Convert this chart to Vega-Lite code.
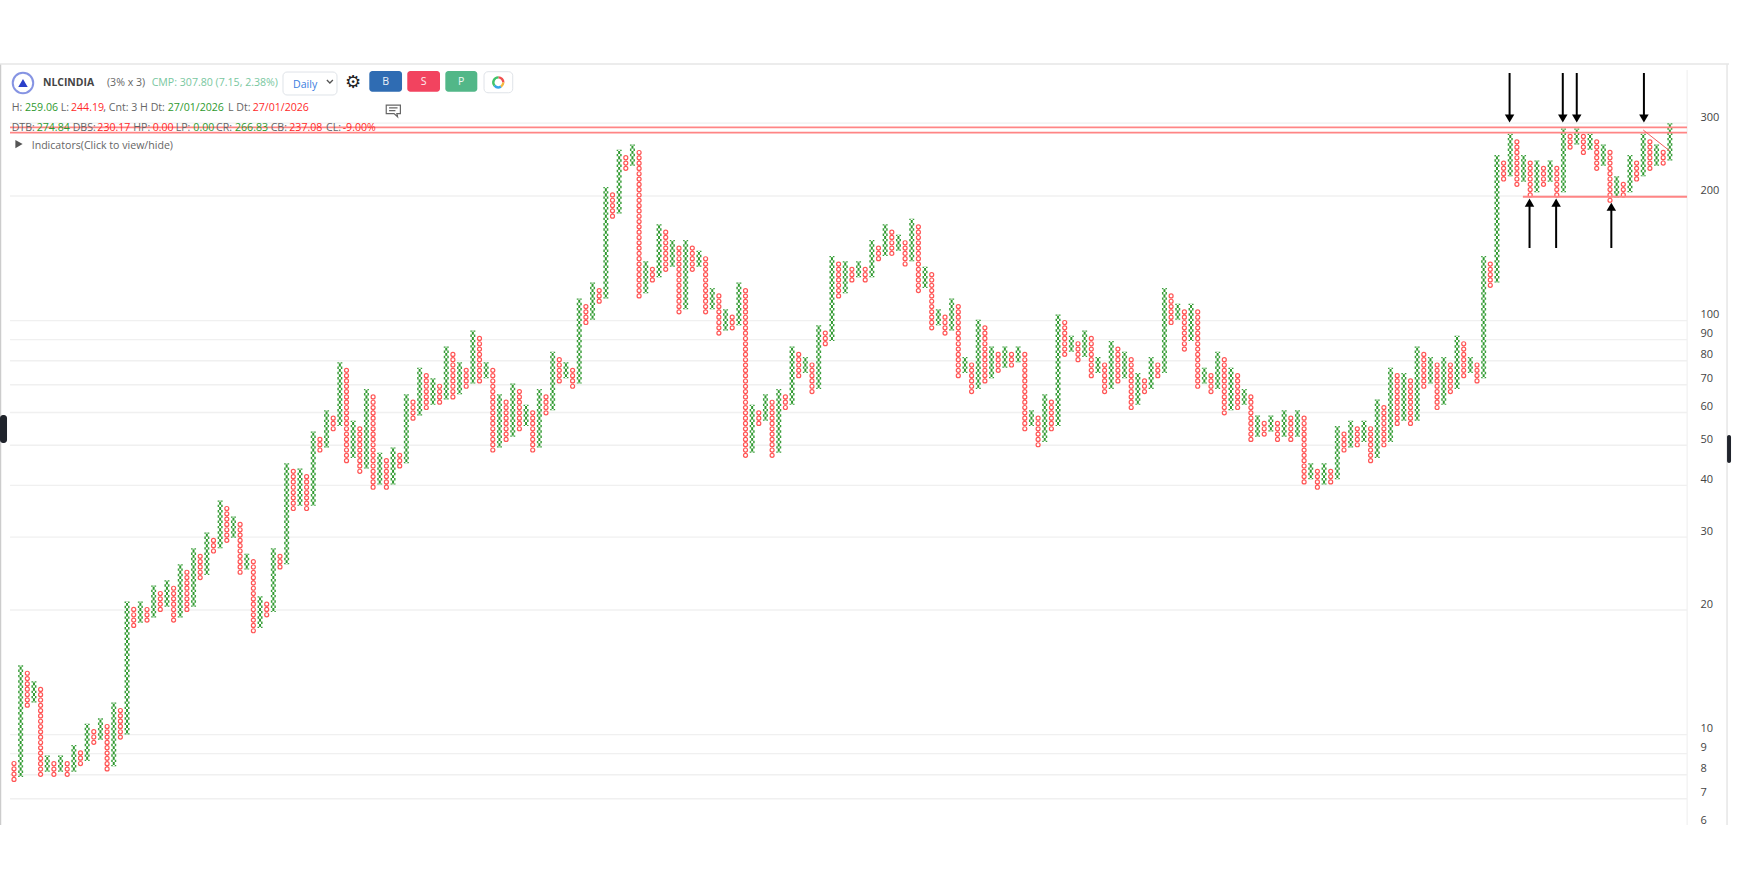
{
"$schema":"https://vega.github.io/schema/vega-lite/v6.json",
"autosize":{"type":"none"},
"padding":{"left":0,"top":0,"right":57,"bottom":0},
"width":1687,
"height":887,
"background":"white",
"config":{"view":{"stroke":null},"text":{"font":"Open Sans","fontSize":10.6}},
"datasets":{
"cols":[
{"c":0,"t":"O","lo":7.68,"hi":8.64},{"c":1,"t":"X","lo":7.90,"hi":14.71},{"c":2,"t":"O","lo":11.61,"hi":14.28},{"c":3,"t":"X","lo":11.96,"hi":13.46},{"c":4,"t":"O","lo":7.90,"hi":13.07},{"c":5,"t":"X","lo":8.14,"hi":8.90},{"c":6,"t":"O","lo":7.90,"hi":8.64},{"c":7,"t":"X","lo":8.14,"hi":8.90},{"c":8,"t":"O","lo":7.90,"hi":8.64},{"c":9,"t":"X","lo":8.14,"hi":9.44},
{"c":10,"t":"O","lo":8.39,"hi":9.16},{"c":11,"t":"X","lo":8.64,"hi":10.62},{"c":12,"t":"O","lo":9.44,"hi":10.32},{"c":13,"t":"X","lo":9.72,"hi":10.95},{"c":14,"t":"O","lo":8.14,"hi":10.62},{"c":15,"t":"X","lo":8.39,"hi":11.96},{"c":16,"t":"O","lo":9.72,"hi":11.61},{"c":17,"t":"X","lo":10.01,"hi":20.97},{"c":18,"t":"O","lo":18.09,"hi":20.36},{"c":19,"t":"X","lo":18.63,"hi":20.97},
{"c":20,"t":"O","lo":18.63,"hi":20.36},{"c":21,"t":"X","lo":19.19,"hi":22.92},{"c":22,"t":"O","lo":19.77,"hi":22.25},{"c":23,"t":"X","lo":20.36,"hi":23.60},{"c":24,"t":"O","lo":18.63,"hi":22.92},{"c":25,"t":"X","lo":19.19,"hi":25.79},{"c":26,"t":"O","lo":19.77,"hi":25.04},{"c":27,"t":"X","lo":20.36,"hi":28.18},{"c":28,"t":"O","lo":23.60,"hi":27.36},{"c":29,"t":"X","lo":24.31,"hi":30.79},
{"c":30,"t":"O","lo":27.36,"hi":29.90},{"c":31,"t":"X","lo":28.18,"hi":36.77},{"c":32,"t":"O","lo":29.03,"hi":35.70},{"c":33,"t":"X","lo":29.90,"hi":33.65},{"c":34,"t":"O","lo":24.31,"hi":32.67},{"c":35,"t":"X","lo":25.04,"hi":27.36},{"c":36,"t":"O","lo":17.56,"hi":26.56},{"c":37,"t":"X","lo":18.09,"hi":21.60},{"c":38,"t":"O","lo":19.19,"hi":20.97},{"c":39,"t":"X","lo":19.77,"hi":28.18},
{"c":40,"t":"O","lo":25.04,"hi":27.36},{"c":41,"t":"X","lo":25.79,"hi":45.23},{"c":42,"t":"O","lo":34.66,"hi":43.91},{"c":43,"t":"X","lo":35.70,"hi":43.91},{"c":44,"t":"O","lo":34.66,"hi":42.63},{"c":45,"t":"X","lo":35.70,"hi":54.00},{"c":46,"t":"O","lo":47.98,"hi":52.43},{"c":47,"t":"X","lo":49.41,"hi":60.78},{"c":48,"t":"O","lo":54.00,"hi":59.01},{"c":49,"t":"X","lo":55.62,"hi":79.30},
{"c":50,"t":"O","lo":45.23,"hi":76.99},{"c":51,"t":"X","lo":46.58,"hi":57.29},{"c":52,"t":"O","lo":42.63,"hi":55.62},{"c":53,"t":"X","lo":43.91,"hi":68.40},{"c":54,"t":"O","lo":39.01,"hi":66.41},{"c":55,"t":"X","lo":40.18,"hi":47.98},{"c":56,"t":"O","lo":39.01,"hi":46.58},{"c":57,"t":"X","lo":40.18,"hi":49.41},{"c":58,"t":"O","lo":43.91,"hi":47.98},{"c":59,"t":"X","lo":45.23,"hi":66.41},
{"c":60,"t":"O","lo":57.29,"hi":64.48},{"c":61,"t":"X","lo":59.01,"hi":76.99},{"c":62,"t":"O","lo":60.78,"hi":74.75},{"c":63,"t":"X","lo":62.60,"hi":72.57},{"c":64,"t":"O","lo":62.60,"hi":70.46},{"c":65,"t":"X","lo":64.48,"hi":86.66},{"c":66,"t":"O","lo":64.48,"hi":84.13},{"c":67,"t":"X","lo":66.41,"hi":79.30},{"c":68,"t":"O","lo":68.40,"hi":76.99},{"c":69,"t":"X","lo":70.46,"hi":94.69},
{"c":70,"t":"O","lo":70.46,"hi":91.93},{"c":71,"t":"X","lo":72.57,"hi":79.30},{"c":72,"t":"O","lo":47.98,"hi":76.99},{"c":73,"t":"X","lo":49.41,"hi":66.41},{"c":74,"t":"O","lo":50.90,"hi":64.48},{"c":75,"t":"X","lo":52.43,"hi":70.46},{"c":76,"t":"O","lo":54.00,"hi":68.40},{"c":77,"t":"X","lo":55.62,"hi":62.60},{"c":78,"t":"O","lo":47.98,"hi":60.78},{"c":79,"t":"X","lo":49.41,"hi":68.40},
{"c":80,"t":"O","lo":59.01,"hi":66.41},{"c":81,"t":"X","lo":60.78,"hi":84.13},{"c":82,"t":"O","lo":70.46,"hi":81.68},{"c":83,"t":"X","lo":72.57,"hi":79.30},{"c":84,"t":"O","lo":68.40,"hi":76.99},{"c":85,"t":"X","lo":70.46,"hi":113.07},{"c":86,"t":"O","lo":97.53,"hi":109.78},{"c":87,"t":"X","lo":100.46,"hi":123.55},{"c":88,"t":"O","lo":109.78,"hi":119.95},{"c":89,"t":"X","lo":113.07,"hi":210.34},
{"c":90,"t":"O","lo":176.16,"hi":204.22},{"c":91,"t":"X","lo":181.44,"hi":258.69},{"c":92,"t":"O","lo":229.85,"hi":251.16},{"c":93,"t":"X","lo":236.75,"hi":266.45},{"c":94,"t":"O","lo":113.07,"hi":258.69},{"c":95,"t":"X","lo":116.46,"hi":139.06},{"c":96,"t":"O","lo":123.55,"hi":135.01},{"c":97,"t":"X","lo":127.26,"hi":171.02},{"c":98,"t":"O","lo":131.08,"hi":166.05},{"c":99,"t":"X","lo":135.01,"hi":156.51},
{"c":100,"t":"O","lo":103.47,"hi":151.96},{"c":101,"t":"X","lo":106.57,"hi":156.51},{"c":102,"t":"O","lo":131.08,"hi":151.96},{"c":103,"t":"X","lo":135.01,"hi":147.52},{"c":104,"t":"O","lo":103.47,"hi":143.23},{"c":105,"t":"X","lo":106.57,"hi":119.95},{"c":106,"t":"O","lo":91.93,"hi":116.46},{"c":107,"t":"X","lo":94.69,"hi":106.57},{"c":108,"t":"O","lo":94.69,"hi":103.47},{"c":109,"t":"X","lo":97.53,"hi":123.55},
{"c":110,"t":"O","lo":46.58,"hi":119.95},{"c":111,"t":"X","lo":47.98,"hi":62.60},{"c":112,"t":"O","lo":55.62,"hi":60.78},{"c":113,"t":"X","lo":57.29,"hi":66.41},{"c":114,"t":"O","lo":46.58,"hi":64.48},{"c":115,"t":"X","lo":47.98,"hi":68.40},{"c":116,"t":"O","lo":60.78,"hi":66.41},{"c":117,"t":"X","lo":62.60,"hi":86.66},{"c":118,"t":"O","lo":72.57,"hi":84.13},{"c":119,"t":"X","lo":74.75,"hi":81.68},
{"c":120,"t":"O","lo":66.41,"hi":79.30},{"c":121,"t":"X","lo":68.40,"hi":97.53},{"c":122,"t":"O","lo":86.66,"hi":94.69},{"c":123,"t":"X","lo":89.25,"hi":143.23},{"c":124,"t":"O","lo":113.07,"hi":139.06},{"c":125,"t":"X","lo":116.46,"hi":139.06},{"c":126,"t":"O","lo":123.55,"hi":135.01},{"c":127,"t":"X","lo":127.26,"hi":139.06},{"c":128,"t":"O","lo":123.55,"hi":135.01},{"c":129,"t":"X","lo":127.26,"hi":156.51},
{"c":130,"t":"O","lo":139.06,"hi":151.96},{"c":131,"t":"X","lo":143.23,"hi":171.02},{"c":132,"t":"O","lo":143.23,"hi":166.05},{"c":133,"t":"X","lo":147.52,"hi":161.21},{"c":134,"t":"O","lo":135.01,"hi":156.51},{"c":135,"t":"X","lo":139.06,"hi":176.16},{"c":136,"t":"O","lo":116.46,"hi":171.02},{"c":137,"t":"X","lo":119.95,"hi":135.01},{"c":138,"t":"O","lo":94.69,"hi":131.08},{"c":139,"t":"X","lo":97.53,"hi":106.57},
{"c":140,"t":"O","lo":91.93,"hi":103.47},{"c":141,"t":"X","lo":94.69,"hi":113.07},{"c":142,"t":"O","lo":72.57,"hi":109.78},{"c":143,"t":"X","lo":74.75,"hi":81.68},{"c":144,"t":"O","lo":66.41,"hi":79.30},{"c":145,"t":"X","lo":68.40,"hi":100.46},{"c":146,"t":"O","lo":70.46,"hi":97.53},{"c":147,"t":"X","lo":72.57,"hi":86.66},{"c":148,"t":"O","lo":74.75,"hi":84.13},{"c":149,"t":"X","lo":76.99,"hi":86.66},
{"c":150,"t":"O","lo":76.99,"hi":84.13},{"c":151,"t":"X","lo":79.30,"hi":86.66},{"c":152,"t":"O","lo":54.00,"hi":84.13},{"c":153,"t":"X","lo":55.62,"hi":60.78},{"c":154,"t":"O","lo":49.41,"hi":59.01},{"c":155,"t":"X","lo":50.90,"hi":66.41},{"c":156,"t":"O","lo":54.00,"hi":64.48},{"c":157,"t":"X","lo":55.62,"hi":103.47},{"c":158,"t":"O","lo":81.68,"hi":100.46},{"c":159,"t":"X","lo":84.13,"hi":91.93},
{"c":160,"t":"O","lo":79.30,"hi":89.25},{"c":161,"t":"X","lo":81.68,"hi":94.69},{"c":162,"t":"O","lo":72.57,"hi":91.93},{"c":163,"t":"X","lo":74.75,"hi":81.68},{"c":164,"t":"O","lo":66.41,"hi":79.30},{"c":165,"t":"X","lo":68.40,"hi":89.25},{"c":166,"t":"O","lo":70.46,"hi":86.66},{"c":167,"t":"X","lo":72.57,"hi":84.13},{"c":168,"t":"O","lo":60.78,"hi":81.68},{"c":169,"t":"X","lo":62.60,"hi":74.75},
{"c":170,"t":"O","lo":66.41,"hi":72.57},{"c":171,"t":"X","lo":68.40,"hi":81.68},{"c":172,"t":"O","lo":72.57,"hi":79.30},{"c":173,"t":"X","lo":74.75,"hi":119.95},{"c":174,"t":"O","lo":97.53,"hi":116.46},{"c":175,"t":"X","lo":100.46,"hi":109.78},{"c":176,"t":"O","lo":84.13,"hi":106.57},{"c":177,"t":"X","lo":89.25,"hi":109.78},{"c":178,"t":"O","lo":68.40,"hi":106.57},{"c":179,"t":"X","lo":70.46,"hi":76.99},
{"c":180,"t":"O","lo":66.41,"hi":74.75},{"c":181,"t":"X","lo":68.40,"hi":84.13},{"c":182,"t":"O","lo":59.01,"hi":81.68},{"c":183,"t":"X","lo":60.78,"hi":76.99},{"c":184,"t":"O","lo":60.78,"hi":74.75},{"c":185,"t":"X","lo":62.60,"hi":68.40},{"c":186,"t":"O","lo":50.90,"hi":66.41},{"c":187,"t":"X","lo":52.43,"hi":59.01},{"c":188,"t":"O","lo":52.43,"hi":57.29},{"c":189,"t":"X","lo":54.00,"hi":59.01},
{"c":190,"t":"O","lo":50.90,"hi":57.29},{"c":191,"t":"X","lo":52.43,"hi":60.78},{"c":192,"t":"O","lo":50.90,"hi":59.01},{"c":193,"t":"X","lo":52.43,"hi":60.78},{"c":194,"t":"O","lo":40.18,"hi":59.01},{"c":195,"t":"X","lo":41.38,"hi":45.23},{"c":196,"t":"O","lo":39.01,"hi":43.91},{"c":197,"t":"X","lo":40.18,"hi":45.23},{"c":198,"t":"O","lo":40.18,"hi":43.91},{"c":199,"t":"X","lo":41.38,"hi":55.62},
{"c":200,"t":"O","lo":47.98,"hi":54.00},{"c":201,"t":"X","lo":49.41,"hi":57.29},{"c":202,"t":"O","lo":49.41,"hi":55.62},{"c":203,"t":"X","lo":50.90,"hi":57.29},{"c":204,"t":"O","lo":45.23,"hi":55.62},{"c":205,"t":"X","lo":46.58,"hi":64.48},{"c":206,"t":"O","lo":49.41,"hi":62.60},{"c":207,"t":"X","lo":50.90,"hi":76.99},{"c":208,"t":"O","lo":55.62,"hi":74.75},{"c":209,"t":"X","lo":57.29,"hi":74.75},
{"c":210,"t":"O","lo":55.62,"hi":72.57},{"c":211,"t":"X","lo":57.29,"hi":86.66},{"c":212,"t":"O","lo":68.40,"hi":84.13},{"c":213,"t":"X","lo":70.46,"hi":81.68},{"c":214,"t":"O","lo":60.78,"hi":79.30},{"c":215,"t":"X","lo":62.60,"hi":81.68},{"c":216,"t":"O","lo":66.41,"hi":79.30},{"c":217,"t":"X","lo":68.40,"hi":91.93},{"c":218,"t":"O","lo":72.57,"hi":89.25},{"c":219,"t":"X","lo":74.75,"hi":81.68},
{"c":220,"t":"O","lo":70.46,"hi":79.30},{"c":221,"t":"X","lo":72.57,"hi":143.23},{"c":222,"t":"O","lo":119.95,"hi":139.06},{"c":223,"t":"X","lo":123.55,"hi":251.16},{"c":224,"t":"O","lo":216.65,"hi":243.84},{"c":225,"t":"X","lo":223.15,"hi":282.68},{"c":226,"t":"O","lo":210.34,"hi":274.44},{"c":227,"t":"X","lo":216.65,"hi":251.16},{"c":228,"t":"O","lo":198.27,"hi":243.84},{"c":229,"t":"X","lo":204.22,"hi":243.84},
{"c":230,"t":"O","lo":210.34,"hi":236.75},{"c":231,"t":"X","lo":216.65,"hi":243.84},{"c":232,"t":"O","lo":198.27,"hi":236.75},{"c":233,"t":"X","lo":204.22,"hi":291.16},{"c":234,"t":"O","lo":258.69,"hi":282.68},{"c":235,"t":"X","lo":266.45,"hi":291.16},{"c":236,"t":"O","lo":251.16,"hi":282.68},{"c":237,"t":"X","lo":258.69,"hi":282.68},{"c":238,"t":"O","lo":229.85,"hi":274.44},{"c":239,"t":"X","lo":236.75,"hi":266.45},
{"c":240,"t":"O","lo":192.49,"hi":258.69},{"c":241,"t":"X","lo":198.27,"hi":223.15},{"c":242,"t":"O","lo":198.27,"hi":216.65},{"c":243,"t":"X","lo":204.22,"hi":251.16},{"c":244,"t":"O","lo":216.65,"hi":243.84},{"c":245,"t":"X","lo":223.15,"hi":282.68},{"c":246,"t":"O","lo":229.85,"hi":274.44},{"c":247,"t":"X","lo":236.75,"hi":266.45},{"c":248,"t":"O","lo":236.75,"hi":258.69},{"c":249,"t":"X","lo":243.84,"hi":299.90}
],
"levels":[{"level":300},{"level":200},{"level":100},{"level":90},{"level":80},{"level":70},{"level":60},{"level":50},{"level":40},{"level":30},{"level":20},{"level":10},{"level":9},{"level":8},{"level":7}],
"frame":[
{"c0":-2.03,"c1":-2.03,"p0":416.8,"p1":6.05,"tone":"left"},
{"c0":-2.1,"c1":257.9,"p0":416.8,"p1":416.8,"tone":"top"},
{"c0":257.6,"c1":257.6,"p0":416.8,"p1":6.05,"tone":"top"},
{"c0":251.6,"c1":251.6,"p0":403.1,"p1":6.05,"tone":"mid"}
],
"redlines":[
{"c0":-0.6,"c1":251.58,"p0":293.0,"p1":293.0},
{"c0":-0.6,"c1":251.58,"p0":284.4,"p1":284.4},
{"c0":226.9,"c1":251.58,"p0":199.2,"p1":199.2}
],
"diagonal":[{"c0":245,"c1":249,"p0":288.7,"p1":256.9}],
"arrows":[
{"c":224.9,"from":396.4,"to":310.4,"head":307.8,"dir":"down"},
{"c":232.9,"from":396.4,"to":310.4,"head":307.8,"dir":"down"},
{"c":235.0,"from":396.4,"to":310.4,"head":307.8,"dir":"down"},
{"c":245.1,"from":396.4,"to":310.4,"head":307.8,"dir":"down"},
{"c":227.9,"from":149.8,"to":190.0,"head":192.9,"dir":"up"},
{"c":231.9,"from":149.8,"to":190.0,"head":192.9,"dir":"up"},
{"c":240.2,"from":149.8,"to":186.0,"head":188.4,"dir":"up"}
],
"boxes":[
{"c0":53.43,"c1":58.35,"p0":400.8,"p1":357.2,"tone":"b"},
{"c0":59.14,"c1":64.06,"p0":400.8,"p1":357.2,"tone":"s"},
{"c0":64.86,"c1":69.67,"p0":400.8,"p1":357.2,"tone":"p"},
{"c0":-2.105,"c1":-1.05,"p0":59.16,"p1":50.63,"tone":"tab"},
{"c0":257.6,"c1":258.2,"p0":52.93,"p1":45.3,"tone":"tab"}
],
"controls":[
{"c0":40.45,"c1":48.57,"p0":398.6,"p1":350.8},
{"c0":70.68,"c1":75.0,"p0":399.3,"p1":355.2}
],
"wheel":[
{"c":72.83,"p":376.4,"a0":0,"a1":1.6,"tone":"red"},
{"c":72.83,"p":376.4,"a0":1.6,"a1":2.6,"tone":"amber"},
{"c":72.83,"p":376.4,"a0":2.6,"a1":4.0,"tone":"blue"},
{"c":72.83,"p":376.4,"a0":4.0,"a1":6.29,"tone":"green"}
],
"labels":[
{"c":13.98,"p":368.7,"txt":"(3% x 3)","tone":"gray"},
{"c":20.7,"p":368.7,"txt":"CMP: 307.80 (7.15, 2.38%)","tone":"cmp"},
{"c":41.95,"p":364.7,"txt":"Daily","tone":"link"},
{"c":-0.35,"p":320.8,"txt":"H:","tone":"gray"},
{"c":1.65,"p":320.8,"txt":"259.06","tone":"up"},
{"c":7.02,"p":320.8,"txt":"L:","tone":"gray"},
{"c":8.57,"p":320.8,"txt":"244.19","tone":"down"},
{"c":13.43,"p":320.8,"txt":", Cnt: 3 H Dt:","tone":"gray"},
{"c":23.11,"p":320.8,"txt":"27/01/2026","tone":"up"},
{"c":32.18,"p":320.8,"txt":"L Dt:","tone":"gray"},
{"c":35.89,"p":320.8,"txt":"27/01/2026","tone":"down"},
{"c":-0.35,"p":287.1,"txt":"DTB:","tone":"gray"},
{"c":3.41,"p":287.1,"txt":"274.84","tone":"up"},
{"c":8.82,"p":287.1,"txt":"DBS:","tone":"gray"},
{"c":12.53,"p":287.1,"txt":"230.17","tone":"down"},
{"c":17.94,"p":287.1,"txt":"HP:","tone":"gray"},
{"c":20.85,"p":287.1,"txt":"0.00","tone":"down"},
{"c":24.31,"p":287.1,"txt":"LP:","tone":"gray"},
{"c":26.97,"p":287.1,"txt":"0.00","tone":"up"},
{"c":30.38,"p":287.1,"txt":"CR:","tone":"gray"},
{"c":33.23,"p":287.1,"txt":"266.83","tone":"up"},
{"c":38.6,"p":287.1,"txt":"CB:","tone":"gray"},
{"c":41.4,"p":287.1,"txt":"237.08","tone":"down"},
{"c":46.92,"p":287.1,"txt":"CL:","tone":"gray"},
{"c":49.43,"p":287.1,"txt":"-9.00%","tone":"down"},
{"c":2.66,"p":259.8,"txt":"Indicators(Click to view/hide)","tone":"gray"}
],
"buttons":[
{"c":55.88,"p":378,"txt":"B"},
{"c":61.6,"p":378,"txt":"S"},
{"c":67.26,"p":378,"txt":"P"}
]
},
"layer":[
{"data":{"name":"frame"},
 "mark":{"type":"rule","strokeWidth":1.5},
 "encoding":{
  "x":{"field":"c0","type":"quantitative","axis":null,"scale":{"domain":[-2.105,251.579],"nice":false,"zero":false}},
  "x2":{"field":"c1"},
  "y":{"field":"p0","type":"quantitative","scale":{"type":"log","domain":[4.285,595],"nice":false},
   "axis":{"orient":"right","domain":false,"ticks":false,"grid":false,"title":null,"values":[300,200,100,90,80,70,60,50,40,30,20,10,9,8,7,6],"format":"d","labelOverlap":false,"labelPadding":13,"labelOffset":-6,"labelFont":"Open Sans","labelFontSize":11,"labelColor":"#444444","labelAlign":"left"}},
  "y2":{"field":"p1"},
  "color":{"field":"tone","type":"nominal","legend":null,"scale":{"domain":["left","top","mid"],"range":["#cccccc","#e6e6e6","#f3f3f3"]}}
 }},
{"data":{"name":"levels"},
 "mark":{"type":"rule","stroke":"#f0f0f0","strokeWidth":1.3},
 "encoding":{
  "x":{"datum":-0.6},
  "x2":{"datum":251.58},
  "y":{"field":"level","type":"quantitative"}
 }},
{"data":{"name":"cols"},
 "transform":[{"filter":"datum.t === 'O'"}],
 "encoding":{
  "x":{"field":"c","type":"quantitative"},
  "y":{"field":"lo","type":"quantitative"},
  "y2":{"field":"hi"}
 },
 "layer":[
  {"mark":{"type":"rule","stroke":"#ff5555","strokeWidth":5.2,"strokeCap":"round","strokeDash":[0.01,5.3],"strokeDashOffset":2.65}},
  {"mark":{"type":"rule","stroke":"#ffffff","strokeWidth":2.8,"strokeCap":"round","strokeDash":[0.01,5.3],"strokeDashOffset":2.65}}
 ]},
{"data":{"name":"cols"},
 "transform":[{"filter":"datum.t === 'X'"}],
 "encoding":{
  "x":{"field":"c","type":"quantitative"},
  "y":{"field":"lo","type":"quantitative"},
  "y2":{"field":"hi"}
 },
 "layer":[
  {"mark":{"type":"rule","stroke":"#3a9e3a","strokeWidth":5,"strokeDash":[1.2,2.91,1.2,0]}},
  {"mark":{"type":"rule","stroke":"#ffffff","strokeWidth":2,"strokeDash":[1.2,2.91,1.2,0]}},
  {"mark":{"type":"rule","stroke":"#2f9a2f","strokeWidth":2,"strokeDash":[0,1.2,2.91,1.2]}}
 ]},
{"data":{"name":"redlines"},
 "mark":{"type":"rule","stroke":"#ff8585","strokeWidth":1.8},
 "encoding":{
  "x":{"field":"c0","type":"quantitative"},
  "x2":{"field":"c1"},
  "y":{"field":"p0","type":"quantitative"},
  "y2":{"field":"p1"}
 }},
{"data":{"name":"diagonal"},
 "mark":{"type":"rule","stroke":"#f25c5c","strokeWidth":1},
 "encoding":{
  "x":{"field":"c0","type":"quantitative"},
  "x2":{"field":"c1"},
  "y":{"field":"p0","type":"quantitative"},
  "y2":{"field":"p1"}
 }},
{"data":{"name":"arrows"},
 "mark":{"type":"rule","stroke":"#000000","strokeWidth":2},
 "encoding":{
  "x":{"field":"c","type":"quantitative"},
  "y":{"field":"from","type":"quantitative"},
  "y2":{"field":"to"}
 }},
{"data":{"name":"arrows"},
 "mark":{"type":"point","filled":true,"fill":"#000000","stroke":null,"opacity":1,"size":90},
 "encoding":{
  "x":{"field":"c","type":"quantitative"},
  "y":{"field":"head","type":"quantitative"},
  "shape":{"field":"dir","type":"nominal","legend":null,"scale":{"domain":["down","up"],"range":["triangle-down","triangle-up"]}}
 }},
{"data":{"name":"boxes"},
 "mark":{"type":"rect","cornerRadius":3},
 "encoding":{
  "x":{"field":"c0","type":"quantitative"},
  "x2":{"field":"c1"},
  "y":{"field":"p0","type":"quantitative"},
  "y2":{"field":"p1"},
  "fill":{"field":"tone","type":"nominal","legend":null,"scale":{"domain":["b","s","p","tab"],"range":["#2f6cb3","#f2435f","#52b788","#20242c"]}}
 }},
{"data":{"name":"controls"},
 "mark":{"type":"rect","cornerRadius":4,"fill":"#ffffff","stroke":"#dfe3e8","strokeWidth":1},
 "encoding":{
  "x":{"field":"c0","type":"quantitative"},
  "x2":{"field":"c1"},
  "y":{"field":"p0","type":"quantitative"},
  "y2":{"field":"p1"}
 }},
{"data":{"name":"wheel"},
 "mark":{"type":"arc","innerRadius":3.8,"outerRadius":6.2},
 "encoding":{
  "x":{"field":"c","type":"quantitative"},
  "y":{"field":"p","type":"quantitative"},
  "theta":{"field":"a0","type":"quantitative","scale":null},
  "theta2":{"field":"a1"},
  "fill":{"field":"tone","type":"nominal","legend":null,"scale":{"domain":["red","amber","blue","green"],"range":["#f0504f","#f5b83d","#35a4e8","#3fc46a"]}}
 }},
{"data":{"values":[{"c":1.35,"p":375}]},
 "mark":{"type":"point","shape":"circle","size":420,"stroke":"#5468d8","strokeWidth":2,"fill":"#ffffff","filled":false},
 "encoding":{"x":{"field":"c","type":"quantitative"},"y":{"field":"p","type":"quantitative"}}},
{"data":{"values":[{"c":1.35,"p":375}]},
 "mark":{"type":"point","shape":"triangle-up","size":90,"fill":"#2b3fc9","stroke":null,"filled":true,"opacity":1},
 "encoding":{"x":{"field":"c","type":"quantitative"},"y":{"field":"p","type":"quantitative"}}},
{"data":{"values":[{"c":0.75,"p":267}]},
 "mark":{"type":"point","shape":"triangle-right","size":70,"fill":"#555555","stroke":null,"filled":true,"opacity":1},
 "encoding":{"x":{"field":"c","type":"quantitative"},"y":{"field":"p","type":"quantitative"}}},
{"data":{"values":[{"c":47.5,"p":378}]},
 "mark":{"type":"point","shape":"M-1,-0.5L0,0.5L1,-0.5","size":36,"stroke":"#555555","strokeWidth":1.3,"filled":false,"opacity":1},
 "encoding":{"x":{"field":"c","type":"quantitative"},"y":{"field":"p","type":"quantitative"}}},
{"data":{"values":[{"c":57.04,"p":322.7}]},
 "mark":{"type":"point","shape":"M-1,-0.7H1V0.5H0.5L0.6,0.95L0.1,0.5H-1Z M-0.6,-0.3H0.6 M-0.6,0.1H0.3","size":200,"stroke":"#666666","strokeWidth":1.2,"filled":false,"opacity":1},
 "encoding":{"x":{"field":"c","type":"quantitative"},"y":{"field":"p","type":"quantitative"}}},
{"data":{"values":[{"c":50.98,"p":375,"txt":"⚙"}]},
 "mark":{"type":"text","font":"DejaVu Sans","fontSize":18,"align":"center","baseline":"middle","color":"#222222","fontWeight":"bold"},
 "encoding":{"x":{"field":"c","type":"quantitative"},"y":{"field":"p","type":"quantitative"},"text":{"field":"txt"}}},
{"data":{"values":[{"c":4.36,"p":368.7,"txt":"NLCINDIA"}]},
 "mark":{"type":"text","align":"left","baseline":"alphabetic","fontWeight":"bold","color":"#444444","fontSize":10.4},
 "encoding":{"x":{"field":"c","type":"quantitative"},"y":{"field":"p","type":"quantitative"},"text":{"field":"txt"}}},
{"data":{"name":"labels"},
 "mark":{"type":"text","align":"left","baseline":"alphabetic"},
 "encoding":{
  "x":{"field":"c","type":"quantitative"},
  "y":{"field":"p","type":"quantitative"},
  "text":{"field":"txt"},
  "color":{"field":"tone","type":"nominal","legend":null,"scale":{"domain":["gray","up","down","cmp","link"],"range":["#666666","#2e9a2e","#ff2a2a","#79c7a0","#3a7de0"]}}
 }},
{"data":{"name":"buttons"},
 "mark":{"type":"text","align":"center","baseline":"middle","color":"#ffffff","opacity":0.9},
 "encoding":{"x":{"field":"c","type":"quantitative"},"y":{"field":"p","type":"quantitative"},"text":{"field":"txt"}}}
],
"resolve":{"scale":{"color":"independent","fill":"independent","shape":"independent"}}
}
